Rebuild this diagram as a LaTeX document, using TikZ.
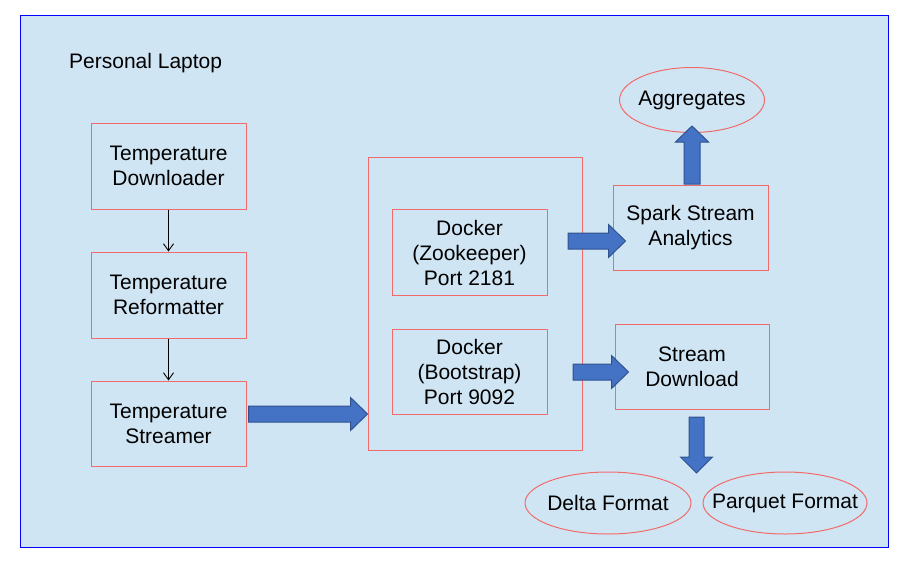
\documentclass[tikz,border=0pt]{standalone}
\usepackage{fontspec}
\setmainfont{Liberation Sans}
\usetikzlibrary{shapes.geometric,arrows.meta,calc}
\definecolor{bgfill}{HTML}{D0E5F3}
\definecolor{frameblue}{HTML}{0000FF}
\definecolor{boxred}{HTML}{F26B6B}
\definecolor{arrfill}{HTML}{4472C4}
\definecolor{arrline}{HTML}{2F528F}
\tikzset{
  txt/.style={font=\fontsize{21}{25}\selectfont, align=center, text=black},
  box/.style={txt, draw=boxred, line width=1pt, inner sep=0pt, rectangle},
  oval/.style={txt, draw=boxred, line width=1pt, inner xsep=-25pt, inner ysep=-5pt, ellipse},
  thin/.style={draw=black, line width=0.9pt, -{Straight Barb[length=7pt,width=10pt]}},
  blockarrow/.style={fill=arrfill, draw=arrline, line width=1pt, line join=miter}
}
\newcommand\harr[2]{\path[blockarrow] let \p1=(#1), \p2=(#2) in
  (\x1,\y1+8pt) -- (\x2-17pt,\y1+8pt) -- (\x2-17pt,\y1+16.5pt) -- (\x2,\y1)
  -- (\x2-17pt,\y1-16.5pt) -- (\x2-17pt,\y1-8pt) -- (\x1,\y1-8pt) -- cycle;}
\newcommand\uarr[2]{\path[blockarrow] let \p1=(#1), \p2=(#2) in
  (\x1-8pt,\y1) -- (\x1-8pt,\y2-16pt) -- (\x1-16.5pt,\y2-16pt) -- (\x1,\y2)
  -- (\x1+16.5pt,\y2-16pt) -- (\x1+8pt,\y2-16pt) -- (\x1+8pt,\y1) -- cycle;}
\newcommand\darr[2]{\path[blockarrow] let \p1=(#1), \p2=(#2) in
  (\x1-7.5pt,\y1) -- (\x1-7.5pt,\y2+16pt) -- (\x1-16pt,\y2+16pt) -- (\x1,\y2)
  -- (\x1+16pt,\y2+16pt) -- (\x1+7.5pt,\y2+16pt) -- (\x1+7.5pt,\y1) -- cycle;}
\begin{document}
\begin{tikzpicture}[x=1pt,y=-1pt]
\useasboundingbox (0,0) rectangle (907,565);
\node[draw=frameblue, fill=bgfill, line width=1pt, minimum width=868pt, minimum height=532pt, inner sep=0pt] (frame) at (454,281) {};
\node[txt, anchor=west, inner sep=0pt] (title) at (69,63) {Personal Laptop};

\node[box, minimum width=155pt, minimum height=86pt] (dl) at (168.5,166) {Temperature\\Downloader};
\node[box, minimum width=155pt, minimum height=86pt] (rf) at (168.5,295) {Temperature\\Reformatter};
\node[box, minimum width=155pt, minimum height=85pt] (st) at (168.5,423.5) {Temperature\\Streamer};

\node[box, minimum width=214pt, minimum height=293pt] (cont) at (475,303.5) {};
\node[box, minimum width=155pt, minimum height=86pt] (zk) at (469.5,252.5) {Docker\\(Zookeeper)\\Port 2181};
\node[box, minimum width=155pt, minimum height=85pt] (bs) at (469.5,372) {Docker\\(Bootstrap)\\Port 9092};

\node[box, minimum width=155pt, minimum height=85pt] (sp) at (690.5,228) {Spark Stream\\Analytics};
\node[box, minimum width=154pt, minimum height=85pt] (sd) at (692,367) {Stream\\Download};

\node[oval, minimum width=145pt, minimum height=65pt] (ag) at (692,100) {Aggregates};
\node[oval, minimum width=166pt, minimum height=62pt] (df) at (608,503) {Delta Format};
\node[oval, minimum width=164pt, minimum height=62pt] (pf) at (785,503) {Parquet Format};

\draw[thin] (dl) -- (rf);
\draw[thin] (rf) -- (st);

\coordinate (a1s) at ($(st.east)+(2,-9.5)$);
\coordinate (a1e) at (cont.west |- a1s);
\harr{a1s}{a1e}
\coordinate (a2s) at (568,241);
\coordinate (a2e) at ($(sp.west |- a2s)+(13,0)$);
\harr{a2s}{a2e}
\coordinate (a3s) at (573,372);
\coordinate (a3e) at ($(sd.west |- a3s)+(14,0)$);
\harr{a3s}{a3e}
\coordinate (a4s) at ($(sp.north -| 692,0)+(0,-1)$);
\coordinate (a4e) at (692,126);
\uarr{a4s}{a4e}
\coordinate (a5s) at ($(sd.south -| 696.5,0)+(0,7)$);
\coordinate (a5e) at (696.5,473);
\darr{a5s}{a5e}
\end{tikzpicture}
\end{document}
